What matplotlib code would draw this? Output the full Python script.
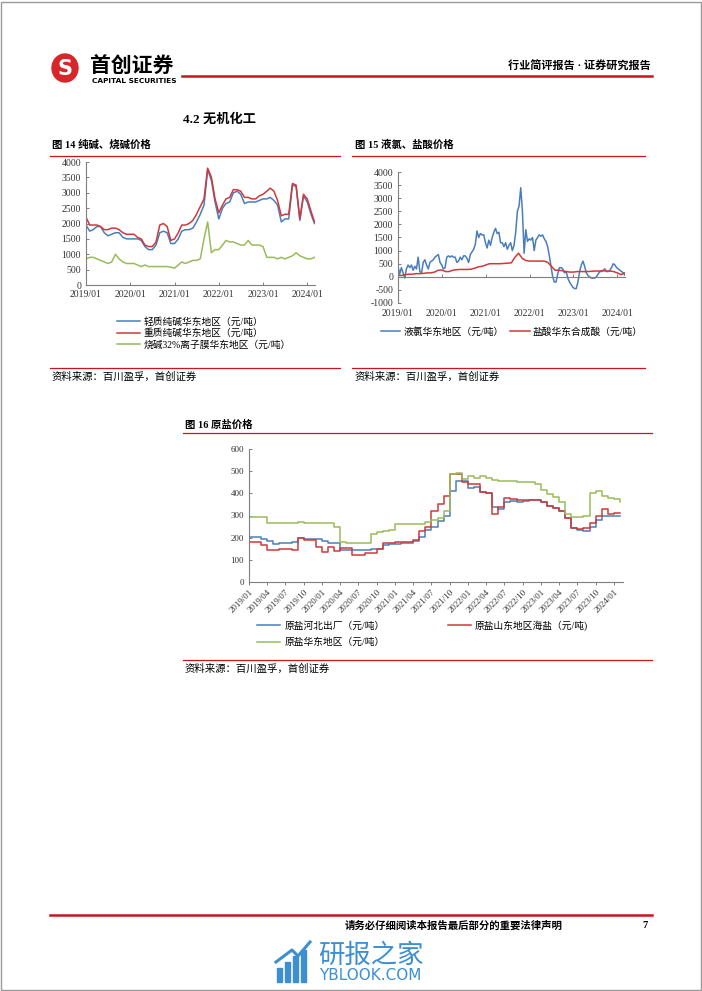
import numpy as np
import pandas as pd
import matplotlib
matplotlib.use("Agg")
import matplotlib.pyplot as plt
import matplotlib.dates as mdates
from matplotlib.patches import Rectangle, Ellipse

plt.rcParams['font.family'] = ['Liberation Serif', 'Noto Sans CJK SC']
plt.rcParams['axes.unicode_minus'] = False

# ---------------- data ----------------
# 图14 纯碱、烧碱 (monthly, 2019/01 - 2024/03)
soda_light = [1950, 1750, 1800, 1900, 1900, 1700, 1600, 1650, 1700, 1700,
              1550, 1500, 1500, 1500, 1500, 1450, 1250, 1150, 1150, 1300,
              1700, 1750, 1700, 1350, 1350, 1500, 1750, 1800, 1800, 1850,
              2050, 2300, 2600, 3750, 3400, 2700, 2150, 2500, 2650, 2700,
              3000, 3050, 2950, 2650, 2700, 2700, 2700, 2750, 2800, 2800,
              2850, 2750, 2600, 2050, 2150, 2150, 3250, 3200, 2100, 2900,
              2700, 2300, 2000]
soda_heavy = [2200, 1950, 1950, 1950, 1900, 1800, 1800, 1850, 1850, 1800,
              1700, 1650, 1650, 1650, 1550, 1500, 1300, 1250, 1250, 1400,
              1950, 2000, 1900, 1450, 1500, 1700, 1950, 1950, 2000, 2100,
              2300, 2550, 2800, 3800, 3500, 2800, 2350, 2600, 2800, 2850,
              3100, 3100, 3050, 2850, 2850, 2800, 2800, 2900, 2950, 3050,
              3150, 3050, 2750, 2250, 2300, 2300, 3300, 3250, 2150, 2950,
              2800, 2400, 2050]
caustic = [850, 900, 900, 850, 800, 750, 700, 750, 1000, 850,
           750, 700, 700, 700, 650, 600, 650, 600, 600, 600,
           600, 600, 600, 580, 550, 650, 750, 700, 750, 800,
           800, 850, 1500, 2050, 1050, 1150, 1150, 1300, 1450, 1400,
           1400, 1350, 1300, 1300, 1450, 1300, 1300, 1300, 1250, 900,
           900, 900, 850, 900, 850, 900, 950, 1050, 950, 900,
           850, 850, 900]
fig14_labels = ['轻质纯碱华东地区（元/吨）', '重质纯碱华东地区（元/吨）',
                '烧碱32%离子膜华东地区（元/吨）']

# 图15 液氯 (bi-weekly) / 盐酸 (monthly)
chlorine = [400, 100, 350, 150, -50, 300, 450, 350, 450, 250,
            400, 300, 750, 200, 150, 550, 650, 450, 300, 550,
            600, 650, 750, 800, 850, 550, 450, 300, 350, 750,
            800, 750, 800, 750, 750, 550, 600, 750, 650, 800,
            800, 700, 550, 850, 950, 1050, 1250, 1750, 1500, 1650,
            1600, 1600, 1300, 1100, 1400, 1200, 1500, 1700, 1850, 1650,
            1700, 1300, 1300, 1150, 1300, 1050, 1200, 1300, 1000, 1200,
            1700, 2500, 2700, 3400, 2500, 900, 1800, 1350, 1450, 1400,
            1500, 1000, 1400, 1500, 1600, 1550, 1600, 1450, 1350, 1150,
            800, 400, 0, -200, -200, 100, 350, 350, 300, 150,
            200, -50, -200, -300, -400, -450, -450, -200, 200, 450,
            600, 400, 150, 50, 0, -50, -50, -50, 0, 100,
            200, 200, 250, 300, 200, 200, 250, 350, 500, 450,
            350, 300, 250, 200, 150, 50, 200]
hcl = [50, 50, 80, 100, 100, 120, 120, 130, 150, 150,
       180, 250, 260, 200, 200, 250, 270, 280, 280, 280,
       290, 330, 380, 400, 450, 500, 500, 500, 500, 510,
       520, 530, 750, 900, 700, 620, 600, 600, 600, 600,
       600, 550, 400, 250, 250, 230, 200, 180, 180, 200,
       200, 200, 200, 210, 220, 220, 230, 220, 220, 200,
       150, 80, 150]
fig15_labels = ['液氯华东地区（元/吨）', '盐酸华东合成酸（元/吨）']

# 图16 原盐 (monthly, 2019/01 - 2024/02)
salt_hebei = [205, 205, 195, 185, 170, 175, 175, 180, 200, 195,
              195, 195, 185, 175, 175, 145, 145, 145, 145, 145,
              150, 150, 165, 170, 170, 175, 175, 185, 205, 235,
              250, 275, 300, 410, 455, 455, 425, 430, 405, 400,
              340, 330, 360, 365, 360, 365, 370, 370, 360, 345,
              335, 320, 290, 245, 235, 230, 250, 280, 300, 300,
              300, 300]
salt_shandong = [180, 180, 165, 145, 145, 150, 150, 145, 200, 190,
                 190, 160, 135, 160, 140, 155, 155, 120, 120, 130,
                 130, 150, 175, 175, 180, 180, 180, 190, 230, 250,
                 320, 350, 390, 485, 485, 450, 440, 440, 405, 400,
                 305, 340, 380, 375, 370, 370, 370, 370, 360, 345,
                 335, 320, 290, 245, 240, 245, 265, 300, 330, 305,
                 310, 310]
salt_east = [295, 295, 295, 268, 268, 268, 268, 268, 270, 265,
             265, 265, 265, 265, 250, 180, 175, 175, 175, 175,
             215, 225, 230, 235, 260, 260, 260, 260, 260, 270,
             280, 290, 320, 485, 490, 465, 480, 470, 480, 470,
             460, 455, 455, 455, 450, 450, 450, 440, 415, 395,
             385, 360, 305, 295, 295, 300, 400, 410, 390, 380,
             375, 360]
fig16_labels = ['原盐河北出厂（元/吨）', '原盐山东地区海盐（元/吨)', '原盐华东地区（元/吨）']

months14 = pd.date_range('2019-01-01', periods=len(soda_light), freq='MS')
dates_cl = pd.date_range('2019-01-01', periods=len(chlorine), freq='14D')
months_hcl = pd.date_range('2019-01-01', periods=len(hcl), freq='MS')
months16 = pd.date_range('2019-01-01', periods=len(salt_hebei), freq='MS')
cat16 = [d.strftime('%Y/%m') for d in months16]

BLUE = '#4A7EBB'
RED = '#D0393B'
GREEN = '#9BBB59'
LINE_RED = '#C8161D'
AX = '#7F7F7F'
W, H = 702, 991


def fx(x):
    return x / W


def fy(y):
    return 1 - y / H


def hline(fig, x0, x1, y, lw=0.9, color=LINE_RED):
    fig.add_artist(plt.Line2D([fx(x0), fx(x1)], [fy(y), fy(y)], color=color, lw=lw))


def style_ax(ax, fs):
    for s in ['top', 'right']:
        ax.spines[s].set_visible(False)
    for s in ['left', 'bottom']:
        ax.spines[s].set_color(AX)
        ax.spines[s].set_linewidth(0.8)
    ax.tick_params(axis='both', colors=AX, labelcolor='#333333', labelsize=fs,
                   width=0.7, length=2.5, direction='in')


fig = plt.figure(figsize=(7.02, 9.91), dpi=100)

# page frame
fig.add_artist(Rectangle((0.001, 0.001), 0.997, 0.997, fill=False, ec='#9A9A9A', lw=1.0,
                         transform=fig.transFigure))

# header
fig.add_artist(Ellipse((fx(65), fy(68)), 26 / W, 28 / H, color='#D7262B', transform=fig.transFigure))
fig.text(fx(65), fy(69), 'S', color='white', fontsize=15, fontweight='bold',
         family=['DejaVu Sans'], ha='center', va='center')
fig.text(fx(90), fy(66), '首创证券', fontsize=15, fontweight='bold',
         family=['Noto Sans CJK SC'], ha='left', va='center')
fig.text(fx(92), fy(81), 'CAPITAL SECURITIES', fontsize=5.3, fontweight='bold',
         family=['DejaVu Sans'], ha='left', va='center')
hline(fig, 182, 652, 76, lw=1.8)
fig.text(fx(651), fy(66), '行业简评报告 · 证券研究报告', fontsize=8, fontweight='bold',
         ha='right', va='center')

fig.text(fx(183), fy(119), '4.2 无机化工', fontsize=9.5, fontweight='bold', ha='left', va='center')

# ---------------- 图14 ----------------
fig.text(fx(52), fy(145), '图 14 纯碱、烧碱价格', fontsize=7.5, fontweight='bold', ha='left', va='center')
hline(fig, 50, 340, 156)
ax1 = fig.add_axes([fx(86), fy(285), (315 - 86) / W, (285 - 162) / H])
ax1.plot(months14, soda_light, color=BLUE, lw=1.1, label=fig14_labels[0])
ax1.plot(months14, soda_heavy, color=RED, lw=1.1, label=fig14_labels[1])
ax1.plot(months14, caustic, color=GREEN, lw=1.1, label=fig14_labels[2])
ax1.set_ylim(0, 4000)
ax1.set_yticks(np.arange(0, 4001, 500))
ax1.set_xlim(pd.Timestamp('2019-01-01'), pd.Timestamp('2024-03-05'))
ax1.xaxis.set_major_locator(mdates.YearLocator())
ax1.xaxis.set_major_formatter(mdates.DateFormatter('%Y/%m'))
style_ax(ax1, 7)
ax1.legend(loc='upper left', bbox_to_anchor=(fx(117), fy(317)), bbox_transform=fig.transFigure,
           frameon=False, fontsize=7, handlelength=2.4, handletextpad=0.3,
           labelspacing=0.2, borderpad=0, borderaxespad=0)
hline(fig, 50, 340, 368)
fig.text(fx(52), fy(377), '资料来源：百川盈孚，首创证券', fontsize=7.5, ha='left', va='center',
         style='italic')

# ---------------- 图15 ----------------
fig.text(fx(355), fy(145), '图 15 液氯、盐酸价格', fontsize=7.5, fontweight='bold', ha='left', va='center')
hline(fig, 352, 645, 156)
ax2 = fig.add_axes([fx(398), fy(303), (625 - 398) / W, (303 - 172) / H])
ax2.plot(dates_cl, chlorine, color=BLUE, lw=1.1, label=fig15_labels[0])
ax2.plot(months_hcl, hcl, color=RED, lw=1.1, label=fig15_labels[1])
ax2.set_ylim(-1000, 4000)
ax2.set_yticks(np.arange(-1000, 4001, 500))
ax2.set_xlim(pd.Timestamp('2019-01-01'), pd.Timestamp('2024-03-05'))
ax2.xaxis.set_major_locator(mdates.YearLocator())
ax2.xaxis.set_major_formatter(mdates.DateFormatter('%Y/%m'))
style_ax(ax2, 7)
ax2.spines['bottom'].set_position(('data', 0))
ax2.tick_params(axis='x', pad=23)
ax2.legend(loc='upper left', bbox_to_anchor=(fx(381), fy(327)), bbox_transform=fig.transFigure,
           ncol=2, frameon=False, fontsize=7, handlelength=2.0, handletextpad=0.3,
           columnspacing=0.7, borderpad=0, borderaxespad=0)
hline(fig, 352, 645, 368)
fig.text(fx(355), fy(377), '资料来源：百川盈孚，首创证券', fontsize=7.5, ha='left', va='center',
         style='italic')

# ---------------- 图16 ----------------
fig.text(fx(185), fy(425), '图 16 原盐价格', fontsize=7.5, fontweight='bold', ha='left', va='center')
hline(fig, 183, 652, 433)
ax3 = fig.add_axes([fx(249), fy(582), (623 - 249) / W, (582 - 449) / H])
xi = np.arange(len(cat16))
l_hb, = ax3.plot(xi, salt_hebei, color=BLUE, lw=1.1, drawstyle='steps-post')
l_sd, = ax3.plot(xi, salt_shandong, color=RED, lw=1.1, drawstyle='steps-post')
l_hd, = ax3.plot(xi, salt_east, color=GREEN, lw=1.1, drawstyle='steps-post')
ax3.set_ylim(0, 600)
ax3.set_yticks(np.arange(0, 601, 100))
ax3.set_xlim(0, len(cat16) - 0.5)
ax3.set_xticks(xi[::3])
ax3.set_xticklabels(cat16[::3], rotation=45, ha='right', rotation_mode='anchor')
style_ax(ax3, 6.5)
ax3.tick_params(axis='x', direction='out', pad=2)
ax3.legend([l_hb, l_hd, l_sd], [fig16_labels[0], fig16_labels[2], fig16_labels[1]],
           loc='upper left', bbox_to_anchor=(fx(257), fy(620)), bbox_transform=fig.transFigure,
           ncol=2, frameon=False, fontsize=7, handlelength=2.4, handletextpad=0.4,
           labelspacing=0.75, columnspacing=6.5, borderpad=0, borderaxespad=0)
hline(fig, 183, 652, 660)
fig.text(fx(185), fy(669), '资料来源：百川盈孚，首创证券', fontsize=7.5, ha='left', va='center',
         style='italic')

# ---------------- footer ----------------
hline(fig, 50, 652, 915, lw=1.8)
fig.text(fx(563), fy(926), '请务必仔细阅读本报告最后部分的重要法律声明', fontsize=7.5,
         fontweight='bold', ha='right', va='center')
fig.text(fx(648), fy(926), '7', fontsize=7.5, fontweight='bold', ha='right', va='center')

# watermark
WM = '#3D8FD1'
for i, hgt in enumerate([14, 20, 26, 32]):
    fig.add_artist(Rectangle((fx(277 + i * 8), fy(982)), 5 / W, hgt / H, color=WM,
                             transform=fig.transFigure))
fig.add_artist(plt.Line2D([fx(276), fx(292), fx(298), fx(310)], [fy(962), fy(950), fy(956), fy(942)],
                          color=WM, lw=2.2))
fig.text(fx(318), fy(955), '研报之家', fontsize=19, color=WM, family=['Noto Sans CJK SC'],
         ha='left', va='center')
fig.text(fx(319), fy(976), 'YBLOOK.COM', fontsize=11, color=WM, family=['DejaVu Sans'],
         ha='left', va='center')

fig.savefig('out.png', dpi=100)
